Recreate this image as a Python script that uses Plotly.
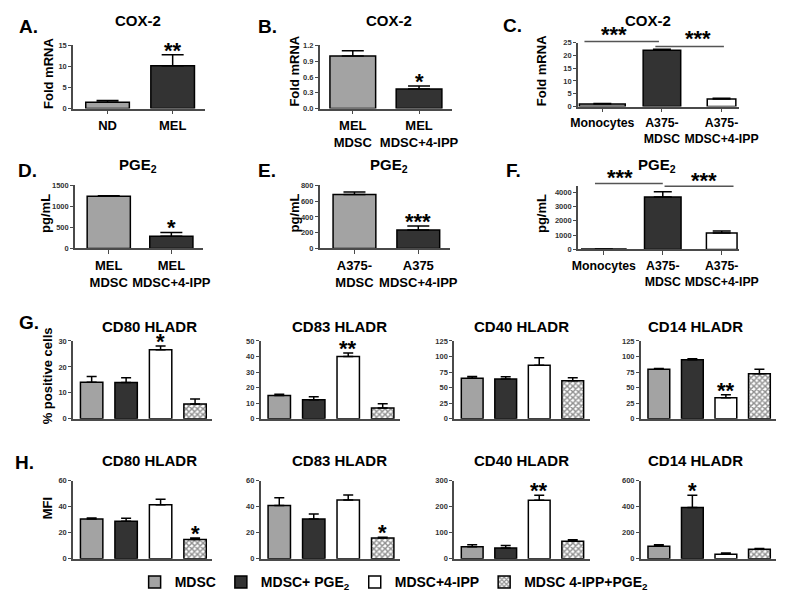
import plotly.graph_objects as go

# ---------------- data ----------------
a_cats = ["ND", "MEL"]
a_vals = [1.5, 10.2]
a_err = [0.4, 2.6]

b_cats = ["MEL<br>MDSC", "MEL<br>MDSC+4-IPP"]
b_vals = [1.0, 0.37]
b_err = [0.1, 0.06]

c_cats = ["Monocytes", "A375-<br>MDSC", "A375-<br>MDSC+4-IPP"]
c_vals = [1.0, 22.0, 3.0]
c_err = [0.15, 0.4, 0.25]

d_cats = ["MEL<br>MDSC", "MEL<br>MDSC+4-IPP"]
d_vals = [1240, 290]
d_err = [15, 90]

e_cats = ["A375-<br>MDSC", "A375<br>MDSC+4-IPP"]
e_vals = [685, 235]
e_err = [30, 50]

f_cats = ["Monocytes", "A375-<br>MDSC", "A375-<br>MDSC+4-IPP"]
f_vals = [30, 3650, 1150]
f_err = [5, 380, 130]

conditions = ["MDSC", "MDSC+ PGE<sub>2</sub>", "MDSC+4-IPP", "MDSC 4-IPP+PGE<sub>2</sub>"]
markers = ["CD80 HLADR", "CD83 HLADR", "CD40 HLADR", "CD14 HLADR"]

g_cd80_vals = [14.1, 14.0, 26.6, 5.7]
g_cd80_err = [2.2, 1.8, 1.5, 1.9]
g_cd83_vals = [15.0, 12.2, 40.0, 7.0]
g_cd83_err = [0.8, 2.0, 2.3, 2.7]
g_cd40_vals = [65, 64, 86, 61]
g_cd40_err = [3, 3.5, 12, 5]
g_cd14_vals = [79.5, 95, 34, 72.5]
g_cd14_err = [1.5, 1.5, 4.5, 7]

h_cd80_vals = [30.5, 28.8, 41.5, 14.8]
h_cd80_err = [0.8, 2.3, 4.3, 1.2]
h_cd83_vals = [41, 30.5, 45.3, 16]
h_cd83_err = [6, 4, 3.8, 0.5]
h_cd40_vals = [46, 41, 225, 67]
h_cd40_err = [8, 10, 20, 6]
h_cd14_vals = [95, 395, 35, 72]
h_cd14_err = [12, 95, 8, 6]

# ---------------- style ----------------
OFF = 8                      # page body margin of the browser
W, H = 800 - OFF, 608 - OFF  # figure size so that it fills the window
FONT = "Liberation Sans, Arial, sans-serif"
GRAY = "#a3a3a3"
DARK = "#333333"
WHITE = "#ffffff"
AXC = "#4a4a4a"


def fx(p):
    return (p - OFF) / W


def fy(p):
    return 1 - (p - OFF) / H


fig = go.Figure()
layout = dict(
    width=W, height=H, margin=dict(l=0, r=0, t=0, b=0),
    paper_bgcolor="white", plot_bgcolor="white",
    barmode="overlay", font=dict(family=FONT, color="black"),
    showlegend=True,
)
annotations = []
shapes = []


def add_axes(i, xdom, ydom, xrange, yrange, ytickvals, ytickfmt=None, cats=None, catsize=13):
    sx = "" if i == 1 else str(i)
    xa = dict(domain=[fx(xdom[0]), fx(xdom[1])], anchor="y" + sx, range=xrange,
              showline=True, linecolor=AXC, linewidth=1.5, showgrid=False, zeroline=False,
              fixedrange=True)
    if cats is not None:
        xa.update(type="category", categoryorder="array", categoryarray=cats, tickangle=0,
                  ticks="outside", ticklen=4, tickwidth=1.2, tickcolor=AXC,
                  tickfont=dict(size=catsize, family=FONT, color="black", weight="bold"))
    else:
        xa.update(type="linear", showticklabels=False, ticks="")
    ya = dict(domain=[fy(ydom[1]), fy(ydom[0])], anchor="x" + sx, range=yrange,
              showline=True, linecolor=AXC, linewidth=1.5, showgrid=False, zeroline=False,
              ticks="outside", ticklen=3, tickwidth=1.2, tickcolor=AXC,
              tickvals=ytickvals, tickfont=dict(size=7.5, family=FONT, color="#333", weight="bold"))
    if ytickfmt:
        ya["tickformat"] = ytickfmt
    layout["xaxis" + sx] = xa
    layout["yaxis" + sx] = ya
    return "x" + sx, "y" + sx


def text(x, y, t, size, xref="paper", yref="paper", angle=0, xanchor="center", yanchor="middle", yshift=0):
    annotations.append(dict(x=x, y=y, xref=xref, yref=yref, text=t, showarrow=False,
                            font=dict(size=size, family=FONT, color="black", weight="bold"),
                            textangle=angle, xanchor=xanchor, yanchor=yanchor, yshift=yshift))


def star(xr, yr, x, y, t):
    text(x, y, t, 22, xref=xr, yref=yr, yanchor="bottom", yshift=-10)


def simple_panel(i, cats, vals, err, colors, widths, capw, xdom, ydom, xrange, yrange, yticks,
                 fmt=None, catsize=13):
    xr, yr = add_axes(i, xdom, ydom, xrange, yrange, yticks, fmt, cats, catsize)
    fig.add_trace(go.Bar(x=cats, y=vals, xaxis=xr, yaxis=yr, width=widths, showlegend=False,
                         marker=dict(color=colors, line=dict(color="black", width=1.5)),
                         error_y=dict(type="data", array=err, arrayminus=[0] * len(err), symmetric=False,
                                      color="black", thickness=1.5, width=capw)))
    return xr, yr


# Panel A
xr, yr = simple_panel(1, a_cats, a_vals, a_err, [GRAY, DARK], 0.67, 11,
                      (68, 204), (42, 106), [-0.53, 1.49], [0, 15], [0, 5, 10, 15])
star(xr, yr, a_cats[1], a_vals[1] + a_err[1], "**")
# Panel B
xr, yr = simple_panel(2, b_cats, b_vals, b_err, [GRAY, DARK], 0.69, 11,
                      (323, 460), (42, 106), [-0.5, 1.5], [0, 1.2], [0, 0.3, 0.6, 0.9, 1.2], ".1f")
star(xr, yr, b_cats[1], b_vals[1] + b_err[1], "*")
# Panel C
xr, yr = simple_panel(3, c_cats, c_vals, c_err, [GRAY, DARK, WHITE], [0.77, 0.63, 0.48], 9,
                      (590, 757), (39, 104), [-0.41, 2.3], [0, 25], [0, 5, 10, 15, 20, 25],
                      catsize=12.3)
shapes.append(dict(type="line", xref=xr, yref="paper", x0=-0.3, x1=0.95, y0=fy(38), y1=fy(38),
                   line=dict(color="#555", width=1.5)))
shapes.append(dict(type="line", xref=xr, yref="paper", x0=0.89, x1=2.04, y0=fy(43), y1=fy(43),
                   line=dict(color="#555", width=1.5)))
text(0.2, fy(31), "***", 22, xref=xr)
text(1.6, fy(35), "***", 22, xref=xr)
# Panel D
xr, yr = simple_panel(4, d_cats, d_vals, d_err, [GRAY, DARK], 0.69, 11,
                      (70, 202), (184, 248), [-0.54, 1.5], [0, 1500], [0, 500, 1000, 1500])
star(xr, yr, d_cats[1], d_vals[1] + d_err[1], "*")
# Panel E
xr, yr = simple_panel(5, e_cats, e_vals, e_err, [GRAY, DARK], 0.67, 11,
                      (323, 458), (184, 248), [-0.545, 1.5], [0, 800], [0, 200, 400, 600, 800])
star(xr, yr, e_cats[1], e_vals[1] + e_err[1], "***")
# Panel F
xr, yr = simple_panel(6, f_cats, f_vals, f_err, [GRAY, DARK, WHITE], [0.75, 0.62, 0.52], 9,
                      (590, 757), (185, 249), [-0.44, 2.3], [0, 4400], [0, 1000, 2000, 3000, 4000],
                      catsize=12.3)
shapes.append(dict(type="line", xref=xr, yref="paper", x0=-0.15, x1=1.0, y0=fy(182), y1=fy(182),
                   line=dict(color="#555", width=1.5)))
shapes.append(dict(type="line", xref=xr, yref="paper", x0=1.03, x1=2.2, y0=fy(185), y1=fy(185),
                   line=dict(color="#555", width=1.5)))
text(0.28, fy(176), "***", 22, xref=xr)
text(1.7, fy(179), "***", 22, xref=xr)

# Panels G and H
cond_colors = [GRAY, DARK, WHITE, WHITE]
xcols = [(68, 212), (262, 406), (462, 602), (655, 795)]
g_sets = [(g_cd80_vals, g_cd80_err, [0, 30], [0, 10, 20, 30]),
          (g_cd83_vals, g_cd83_err, [0, 50], [0, 10, 20, 30, 40, 50]),
          (g_cd40_vals, g_cd40_err, [0, 125], [0, 25, 50, 75, 100, 125]),
          (g_cd14_vals, g_cd14_err, [0, 125], [0, 25, 50, 75, 100, 125])]
h_sets = [(h_cd80_vals, h_cd80_err, [0, 60], [0, 20, 40, 60]),
          (h_cd83_vals, h_cd83_err, [0, 60], [0, 20, 40, 60]),
          (h_cd40_vals, h_cd40_err, [0, 300], [0, 100, 200, 300]),
          (h_cd14_vals, h_cd14_err, [0, 600], [0, 200, 400, 600])]
g_stars = [(2, "*"), (2, "**"), None, (2, "**")]
h_stars = [(3, "*"), (3, "*"), (2, "**"), (1, "*")]

idx = 7
for row, (sets, ydom, stars) in enumerate([(g_sets, (342, 421), g_stars), (h_sets, (484, 563), h_stars)]):
    for col, (vals, err, yrange, yticks) in enumerate(sets):
        xr, yr = add_axes(idx, xcols[col], ydom, [-0.54, 3.5], yrange, yticks)
        for k in range(4):
            mk = dict(color=cond_colors[k], line=dict(color="black", width=1.5))
            if k == 3:
                mk["pattern"] = dict(shape="x", size=4, solidity=0.6, fgcolor="#222", bgcolor="white")
            fig.add_trace(go.Bar(x=[k], y=[vals[k]], xaxis=xr, yaxis=yr, width=0.65,
                                 name=conditions[k], legendgroup=conditions[k],
                                 showlegend=(row == 0 and col == 0), marker=mk,
                                 error_y=dict(type="data", array=[err[k]], arrayminus=[0], symmetric=False,
                                              color="black", thickness=1.5, width=5)))
        if stars[col] is not None:
            k, s = stars[col]
            star(xr, yr, k, vals[k] + err[k], s)
        idx += 1

# titles
for (x, y, t) in [(135, 17, "COX-2"), (395, 17, "COX-2"), (663, 17, "COX-2"),
                  (135, 164, "PGE<sub>2</sub>"), (395, 164, "PGE<sub>2</sub>"), (672, 164, "PGE<sub>2</sub>")]:
    text(fx(x), fy(y), t, 15)
for col, x in enumerate([147, 343, 532, 712]):
    text(fx(x), fy(327), markers[col], 15)
    text(fx(x), fy(463), markers[col], 15)

# panel letters
for (x, y, t) in [(22, 23, "A."), (269, 23, "B."), (522, 22, "C."),
                  (21, 169, "D."), (269, 169, "E."), (523, 169, "F."),
                  (22, 323, "G."), (18, 465, "H.")]:
    text(fx(x), fy(y), t, 19)

# y-axis titles
for (x, y, t) in [(42, 70, "Fold mRNA"), (297, 68, "Fold mRNA"), (552, 68, "Fold mRNA"),
                  (40, 212, "pg/mL"), (297, 212, "pg/mL"), (553, 213, "pg/mL"),
                  (42, 377, "% positive cells"), (42, 512, "MFI")]:
    text(fx(x), fy(y), t, 13, angle=-90)

layout["annotations"] = annotations
layout["shapes"] = shapes
layout["legend"] = dict(orientation="h", x=fx(400), xanchor="center", y=fy(587), yanchor="middle",
                        font=dict(size=14, family=FONT, color="black", weight="bold"),
                        bgcolor="rgba(0,0,0,0)", traceorder="normal")
fig.update_layout(**layout)
fig.write_html("out.html")
